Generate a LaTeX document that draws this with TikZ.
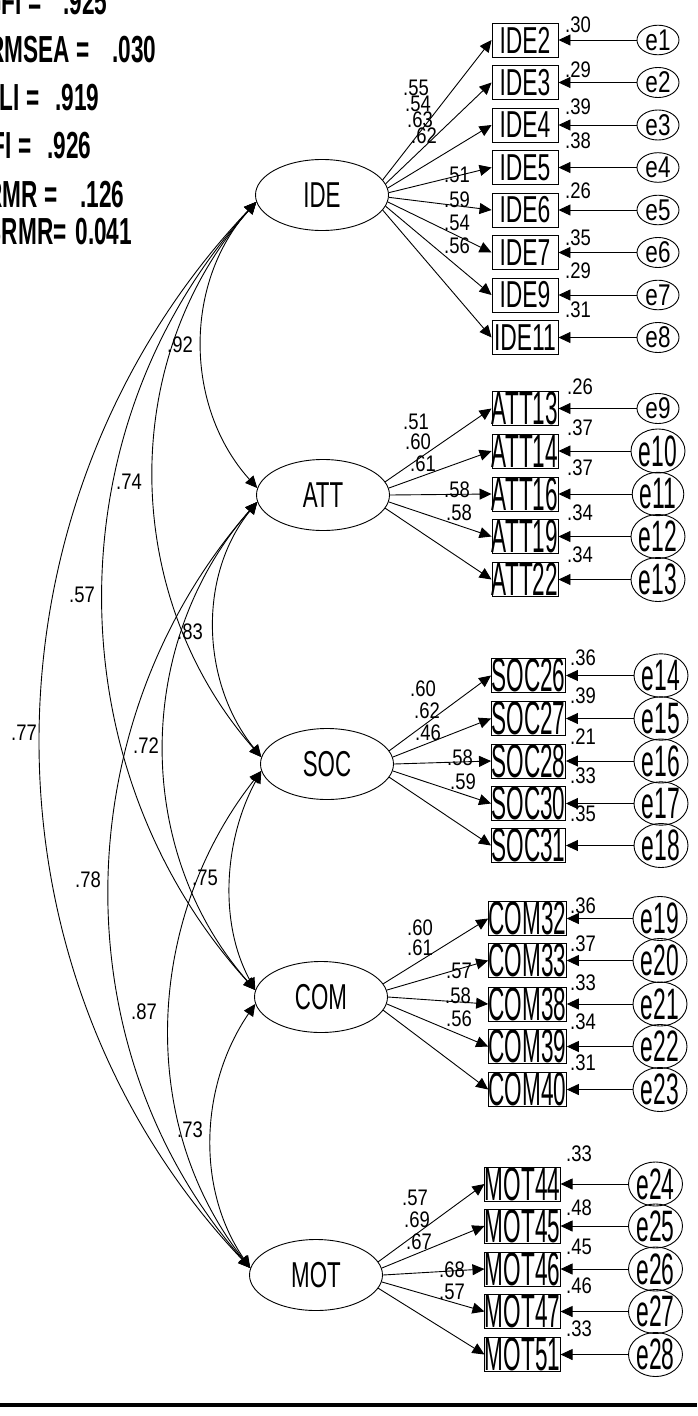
\documentclass[tikz,border=0pt]{standalone}
\usepackage{fontspec}
\setmainfont{Liberation Sans}
\newfontfamily\fitfamily[FakeStretch=0.6]{Liberation Sans}
\newfontfamily\latfamily[FakeStretch=0.62]{Liberation Sans}
\newfontfamily\idefamily[FakeStretch=0.61]{Liberation Sans}
\newfontfamily\obsfamily[FakeStretch=0.48]{Liberation Sans}
\newfontfamily\numfamily[FakeStretch=0.82]{Liberation Sans}
\newfontfamily\errbfamily[FakeStretch=0.52]{Liberation Sans}
\newfontfamily\errsfamily[FakeStretch=0.75]{Liberation Sans}
\usetikzlibrary{shapes.geometric,arrows.meta,calc}

\tikzset{
  latent/.style={ellipse, draw, minimum width=133pt, minimum height=71pt, inner sep=0pt,
    font=\latfamily\fontsize{36}{36}\selectfont},
  obs/.style={rectangle, draw, minimum width=66pt, minimum height=34pt, inner sep=0pt,
    font=\obsfamily\fontsize{47}{47}\selectfont},
  obsi/.style={obs, font=\idefamily\fontsize{37.5}{37.5}\selectfont},
  errb/.style={ellipse, draw, minimum width=42pt, minimum height=28pt, inner sep=0pt,
    font=\errbfamily\fontsize{44}{44}\selectfont},
  errs/.style={errb, font=\errsfamily\fontsize{30}{30}\selectfont},
  num/.style={inner sep=0pt, font=\numfamily\fontsize{22.5}{22.5}\selectfont},
  fitstat/.style={inner sep=0pt, font=\fitfamily\bfseries\fontsize{37.7}{37.7}\selectfont},
  loadarrow/.style={-{Triangle[length=12pt,width=11pt]}},
  covarc/.style={{Triangle[length=12pt,width=11pt]}-{Triangle[length=12pt,width=11pt]}}
}

\begin{document}
\begin{tikzpicture}[x=1pt, y=-1pt, line width=0.9pt]
\useasboundingbox (0,0) rectangle (697,1416);

% fit indices, top left
\foreach \lab/\val/\ex/\vx/\by [count=\i] in {GFI =/.925/42/63/14, RMSEA =/.030/90/112/62,
    TLI =/.919/40/55/110, CFI =/.926/32/47/158, RMR =/.126/58/80/207, SRMR=/0.041/67/75/244} {
  \node[fitstat, anchor=base east] (fit\i) at (\ex,\by) {\lab};
  \node[fitstat, anchor=base west] (val\i) at (\vx,\by) {\val};
}

% latent factors
\node[latent] (IDE) at (322,195) {IDE};
\node[latent] (ATT) at (323,495) {ATT};
\node[latent] (SOC) at (327,764) {SOC};
\node[latent] (COM) at (321,997) {COM};
\node[latent] (MOT) at (316,1275) {MOT};

% IDE indicators
\foreach \nm/\y/\er/\ld/\lx/\ly/\va/\vy [count=\i, evaluate=\i as \ang using int(18-4*\i)] in {
    IDE2/40/e1/.55/416/88/.30/25, IDE3/82.5/e2/.54/418/104/.29/70,
    IDE4/125/e3/.63/420/120/.39/107, IDE5/167.5/e4/.62/424/136/.38/141,
    IDE6/210/e5/.51/457/175/.26/191, IDE7/252.5/e6/.59/457/200/.35/238,
    IDE9/295/e7/.54/457/223/.29/271, IDE11/337.5/e8/.56/457/246/.31/310} {
  \node[obsi] (\nm) at (525,\y) {\nm};
  \node[errs] (\er) at (658,\y) {\er};
  \draw[loadarrow] (IDE.\ang) -- (\nm.west);
  \draw[loadarrow] (\er) -- (\nm.east);
  \node[num] (l-\nm) at (\lx,\ly) {\ld};
  \node[num] (v-\nm) at (578,\vy) {\va};
}

% ATT indicators
\foreach \nm/\y/\er/\es/\ld/\lx/\ly/\va/\vy [count=\i, evaluate=\i as \ang using int(18-6*\i)] in {
    ATT13/408.5/e9/errs/.51/416/422/.26/387, ATT14/451/e10/errb/.60/418/442/.37/428,
    ATT16/494/e11/errb/.61/423/464/.37/468, ATT19/536.5/e12/errb/.58/457/490/.34/513,
    ATT22/579.5/e13/errb/.58/459/513/.34/555} {
  \node[obs] (\nm) at (525,\y) {\nm};
  \node[\es] (\er) at (658,\y) {\er};
  \draw[loadarrow] (ATT.\ang) -- (\nm.west);
  \draw[loadarrow] (\er) -- (\nm.east);
  \node[num] (l-\nm) at (\lx,\ly) {\ld};
  \node[num] (v-\nm) at (580,\vy) {\va};
}

% SOC indicators
\foreach \nm/\y/\er/\ld/\lx/\ly/\va/\vy [count=\i, evaluate=\i as \ang using int(18-6*\i)] in {
    SOC26/675.5/e14/.60/423/689/.36/658, SOC27/718.5/e15/.62/427/711/.39/696,
    SOC28/761/e16/.46/428/733/.21/737, SOC30/803.5/e17/.58/460/758/.33/776,
    SOC31/845.5/e18/.59/463/782/.35/814} {
  \node[obs] (\nm) at (528.5,\y) {\nm};
  \node[errb] (\er) at (661,\y) {\er};
  \draw[loadarrow] (SOC.\ang) -- (\nm.west);
  \draw[loadarrow] (\er) -- (\nm.east);
  \node[num] (l-\nm) at (\lx,\ly) {\ld};
  \node[num] (v-\nm) at (583,\vy) {\va};
}

% COM indicators
\foreach \nm/\y/\er/\ld/\lx/\ly/\va/\vy [count=\i, evaluate=\i as \ang using int(18-6*\i)] in {
    COM32/918.5/e19/.60/420/928/.36/906, COM33/960.5/e20/.61/420/948/.37/944,
    COM38/1004/e21/.57/459/971/.33/983, COM39/1046.5/e22/.58/458/996/.34/1022,
    COM40/1089.5/e23/.56/459/1019/.31/1063} {
  \node[obs] (\nm) at (527.5,\y) {\nm};
  \node[errb] (\er) at (660,\y) {\er};
  \draw[loadarrow] (COM.\ang) -- (\nm.west);
  \draw[loadarrow] (\er) -- (\nm.east);
  \node[num] (l-\nm) at (\lx,\ly) {\ld};
  \node[num] (v-\nm) at (583,\vy) {\va};
}

% MOT indicators
\foreach \nm/\y/\er/\ld/\lx/\ly/\va/\vy [count=\i, evaluate=\i as \ang using int(18-6*\i)] in {
    MOT44/1184/e24/.57/415/1198/.33/1154, MOT45/1226/e25/.69/417/1220/.48/1208,
    MOT46/1269/e26/.67/419/1242/.45/1247, MOT47/1311.5/e27/.68/452/1270/.46/1286,
    MOT51/1354.5/e28/.57/452/1292/.33/1329} {
  \node[obs] (\nm) at (522.5,\y) {\nm};
  \node[errb] (\er) at (655.5,\y) {\er};
  \draw[loadarrow] (MOT.\ang) -- (\nm.west);
  \draw[loadarrow] (\er) -- (\nm.east);
  \node[num] (l-\nm) at (\lx,\ly) {\ld};
  \node[num] (v-\nm) at (579,\vy) {\va};
}

% correlations between factors (arcs on the left)
\foreach \ua/\ub/\dx/\dy in {IDE/ATT/73/81, IDE/SOC/140/159, IDE/COM/203/224, IDE/MOT/283/299,
    ATT/SOC/60/74, ATT/COM/123/140, ATT/MOT/192/219, SOC/COM/37/68, SOC/MOT/115/146, COM/MOT/55/80}
  \draw[covarc] (\ua.186) .. controls ($(\ua.186)+(-\dx,\dy)$) and ($(\ub.174)+(-\dx,-\dy)$) .. (\ub.174);

\node[num] (c1) at (180,345) {.92};
\node[num] (c2) at (129,482) {.74};
\node[num] (c3) at (82,595) {.57};
\node[num] (c4) at (24,733) {.77};
\node[num] (c5) at (190,632) {.83};
\node[num] (c6) at (146,746) {.72};
\node[num] (c7) at (88,880) {.78};
\node[num] (c8) at (205,878) {.75};
\node[num] (c9) at (144,1012) {.87};
\node[num] (c10) at (190,1130) {.73};

% rule at the bottom
\draw[line width=4pt] (0,1405) -- (697,1405);
\end{tikzpicture}
\end{document}
